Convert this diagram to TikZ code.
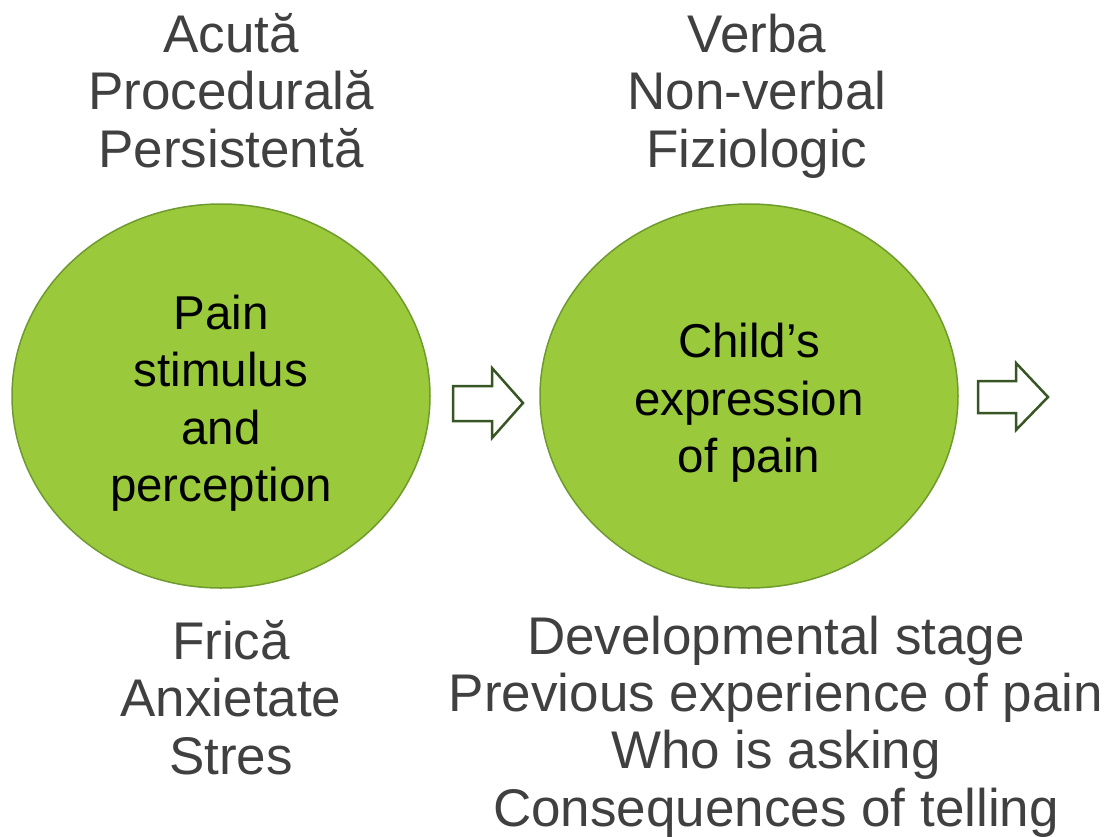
\documentclass[tikz,border=0pt]{standalone}
\usepackage{fontspec}
\setmainfont{Liberation Sans}
\usetikzlibrary{shapes.geometric}

\definecolor{leaf}{HTML}{9ACA3C}
\definecolor{leafedge}{HTML}{6F9A2E}
\definecolor{arrowgreen}{HTML}{375623}
\definecolor{labelgray}{HTML}{404040}

\tikzset{
  bubble/.style={ellipse, fill=leaf, draw=leafedge, line width=1.5pt,
    minimum width=418pt, minimum height=384pt, inner sep=0pt},
  bubbletext/.style={align=center, text=black, inner sep=0pt,
    font=\fontsize{47.5}{57.5}\selectfont},
  outer/.style={anchor=base, align=center, text=labelgray, inner sep=0pt,
    font=\fontsize{53}{57.3}\selectfont},
  blockarrow/.style={draw=arrowgreen, fill=white, line width=2.5pt, line join=miter}
}

\begin{document}
\begin{tikzpicture}[x=1pt,y=-1pt]
    \useasboundingbox (0,0) rectangle (1109,836);

    % Kreise
    \node[bubble] (pain) at (221,396) {};
    \node[bubble] (expr) at (749,396) {};
    \node[bubbletext] (painlbl) at ([yshift=-7pt]pain.center) {Pain\\stimulus\\and\\perception};
    \node[bubbletext] (exprlbl) at ([yshift=-7pt]expr.center) {Child’s\\expression\\of pain};

    % Texte oben (Grundlinie der letzten Zeile)
    \node[outer] (types) at (231,167) {Acută\\Procedurală\\Persistentă};
    \node[outer] (ways) at (757,167) {Verba\\Non-verbal\\Fiziologic};

    % Texte unten
    \node[outer] (feelings) at (231,774) {Frică\\Anxietate\\Stres};
    \node[outer] (factors) at (776,826) {Developmental stage\\Previous experience of pain\\Who is asking\\Consequences of telling};

    % Pfeile
    \draw[blockarrow] (453,386) -- (492,386) -- (492,368) -- (523,403)
        -- (492,438) -- (492,421) -- (453,421) -- cycle;
    \draw[blockarrow] (978,381) -- (1016,381) -- (1016,363) -- (1048,397)
        -- (1016,430) -- (1016,413) -- (978,413) -- cycle;
\end{tikzpicture}
\end{document}
